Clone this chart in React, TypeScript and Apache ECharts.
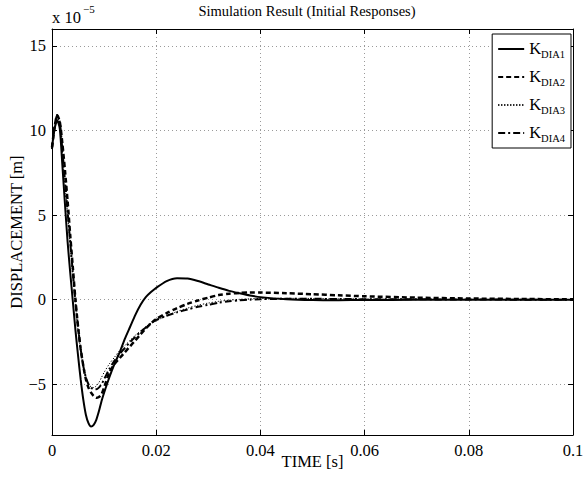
import React, { useEffect, useRef } from 'react';
import * as echarts from 'echarts';

const FONT = '"Liberation Serif", "Times New Roman", serif';

// Time samples [s]
const TIME = [0, 0.0005, 0.001, 0.0015, 0.002, 0.0025, 0.003, 0.0035, 0.004, 0.0045, 0.005, 0.0055, 0.006, 0.0065, 0.007, 0.0075, 0.008, 0.0085, 0.009, 0.0095, 0.01, 0.011, 0.012, 0.013, 0.014, 0.015, 0.016, 0.017, 0.018, 0.019, 0.02, 0.022, 0.024, 0.026, 0.028, 0.03, 0.032, 0.034, 0.036, 0.038, 0.04, 0.045, 0.05, 0.055, 0.06, 0.07, 0.08, 0.09, 0.1];

// Displacement [x 1e-5 m]
const K_DIA1 = [9.0, 10.1, 10.6, 10.1, 7.9, 5.6, 3.4, 1.6, -0.1, -1.8, -3.3, -4.7, -5.9, -6.8, -7.3, -7.5, -7.4, -7.1, -6.6, -6.0, -5.5, -4.6, -3.8, -3.1, -2.3, -1.6, -0.9, -0.3, 0.15, 0.45, 0.7, 1.1, 1.27, 1.25, 1.1, 0.9, 0.7, 0.52, 0.38, 0.25, 0.15, 0.03, -0.02, -0.03, -0.02, -0.01, 0, 0, 0];
const K_DIA2 = [9.0, 10.2, 10.9, 10.5, 9.2, 7.6, 5.8, 3.8, 1.9, 0.0, -1.6, -2.9, -3.9, -4.7, -5.2, -5.5, -5.7, -5.8, -5.75, -5.6, -5.2, -4.3, -3.8, -3.45, -3.1, -2.75, -2.4, -2.05, -1.7, -1.4, -1.15, -0.8, -0.5, -0.25, -0.05, 0.12, 0.27, 0.35, 0.4, 0.42, 0.42, 0.38, 0.32, 0.26, 0.2, 0.12, 0.07, 0.04, 0.02];
const K_DIA3 = [9.0, 10.2, 10.8, 10.4, 8.6, 6.8, 5.0, 3.2, 1.4, -0.3, -1.8, -3.0, -4.0, -4.6, -5.0, -5.15, -5.2, -5.1, -4.9, -4.6, -4.3, -3.8, -3.4, -3.0, -2.7, -2.4, -2.1, -1.85, -1.6, -1.4, -1.25, -0.95, -0.7, -0.5, -0.33, -0.2, -0.1, -0.03, 0.02, 0.05, 0.07, 0.08, 0.07, 0.06, 0.05, 0.03, 0.02, 0.01, 0];
const K_DIA4 = [8.9, 10.3, 10.9, 10.5, 8.8, 7.0, 5.2, 3.4, 1.6, -0.1, -1.6, -2.9, -3.9, -4.6, -5.0, -5.2, -5.3, -5.3, -5.2, -5.0, -4.7, -4.1, -3.6, -3.2, -2.85, -2.5, -2.2, -1.9, -1.65, -1.4, -1.2, -0.95, -0.75, -0.58, -0.42, -0.3, -0.18, -0.1, -0.04, 0.0, 0.03, 0.05, 0.05, 0.04, 0.03, 0.02, 0.01, 0, 0];

const SERIES_NAMES = ['K_DIA1', 'K_DIA2', 'K_DIA3', 'K_DIA4'];
const SERIES_VALUES = [K_DIA1, K_DIA2, K_DIA3, K_DIA4];

const TITLE = 'Simulation Result (Initial Responses)';
const X_NAME = 'TIME [s]';
const Y_NAME = 'DISPLACEMENT [m]';

const LINE_STYLES: any[] = [
  { width: 2, type: 'solid' },
  { width: 2.5, type: [5, 3] },
  { width: 1, type: [1.2, 1.8] },
  { width: 2, type: [7, 3, 2, 3] },
];

export default function App() {
  const ref = useRef<HTMLDivElement>(null);
  useEffect(() => {
    if (!ref.current) return;
    const chart = echarts.init(ref.current, null, { renderer: 'svg' });
    const tickText = { fontFamily: FONT, fontSize: 16.5, color: '#000' };
    const axisLine = { show: true, onZero: false, lineStyle: { color: '#000', width: 1 } };
    const axisTick = { show: true, inside: true, length: 5, lineStyle: { color: '#000', width: 1 } };
    const splitLine = { show: true, lineStyle: { color: '#9a9a9a', width: 1, type: [1, 3] } };
    const yFmt = (v: number) => {
      if (Math.abs(v % 5) > 1e-9) return '';
      return v < 0 ? '\u2212' + Math.abs(v) : String(v);
    };
    const xFmt = (v: number) => String(+v.toFixed(2));

    chart.setOption({
      animation: false,
      backgroundColor: '#fff',
      title: {
        text: TITLE,
        left: 307,
        textAlign: 'center',
        top: 3,
        padding: 0,
        textStyle: { fontFamily: FONT, fontSize: 14.5, fontWeight: 'normal', color: '#000' },
      },
      grid: { left: 52, right: 10, top: 29, bottom: 44, containLabel: false, outerBoundsMode: 'none' },
      graphic: [
        { type: 'text', left: 52, top: 9, style: { text: 'x 10', font: '16.5px "Liberation Serif"', fill: '#000' } },
        { type: 'text', left: 83, top: 3, style: { text: '\u22125', font: '11px "Liberation Serif"', fill: '#000' } },
      ],
      legend: {
        orient: 'vertical',
        right: 12,
        top: 34,
        backgroundColor: '#fff',
        borderColor: '#000',
        borderWidth: 1,
        borderRadius: 0,
        padding: [6, 6, 4, 5],
        itemWidth: 26,
        itemHeight: 14,
        itemGap: 8,
        itemStyle: { opacity: 0 },
        data: SERIES_NAMES,
        formatter: (name: string) => `{k|K}{s|${name.slice(2)}}`,
        textStyle: {
          fontFamily: FONT,
          color: '#000',
          rich: {
            k: { fontFamily: FONT, fontSize: 16.5, lineHeight: 18, verticalAlign: 'top', color: '#000' },
            s: { fontFamily: FONT, fontSize: 10.5, lineHeight: 11, padding: [9, 0, 0, 0], verticalAlign: 'top', color: '#000' },
          },
        },
      },
      xAxis: [
        {
          type: 'value', min: 0, max: 0.1, interval: 0.02, position: 'bottom',
          axisLine, axisTick, splitLine,
          axisLabel: { ...tickText, margin: 7, formatter: xFmt },
          name: X_NAME, nameLocation: 'middle', nameGap: 18, nameMoveOverlap: false,
          nameTextStyle: { fontFamily: FONT, fontSize: 16.5, color: '#000' },
        },
        {
          type: 'value', min: 0, max: 0.1, interval: 0.02, position: 'top',
          axisLine, axisTick, splitLine: { show: false }, axisLabel: { show: false },
        },
      ],
      yAxis: [
        {
          type: 'value', min: -8, max: 16, splitNumber: 5, position: 'left',
          axisLine, axisTick, splitLine,
          axisLabel: { ...tickText, margin: 6, formatter: yFmt, showMinLabel: false, showMaxLabel: false },
          name: Y_NAME, nameLocation: 'middle', nameGap: 27, nameMoveOverlap: false,
          nameTextStyle: { fontFamily: FONT, fontSize: 16.5, color: '#000' },
        },
        {
          type: 'value', min: -8, max: 16, splitNumber: 5, position: 'right',
          axisLine, axisTick, splitLine: { show: false }, axisLabel: { show: false },
        },
      ],
      series: SERIES_NAMES.map((name, i) => ({
        name,
        type: 'line',
        xAxisIndex: 0,
        yAxisIndex: 0,
        data: TIME.map((t, j) => [t, SERIES_VALUES[i][j]]),
        symbol: 'none',
        showSymbol: false,
        smooth: 0.25,
        itemStyle: { color: '#000' },
        lineStyle: { color: '#000', ...LINE_STYLES[i] },
        z: 10 - i,
      })),
    });
    return () => chart.dispose();
  }, []);
  return <div ref={ref} style={{ position: 'fixed', left: 0, top: 0, width: 583, height: 479 }} />;
}
